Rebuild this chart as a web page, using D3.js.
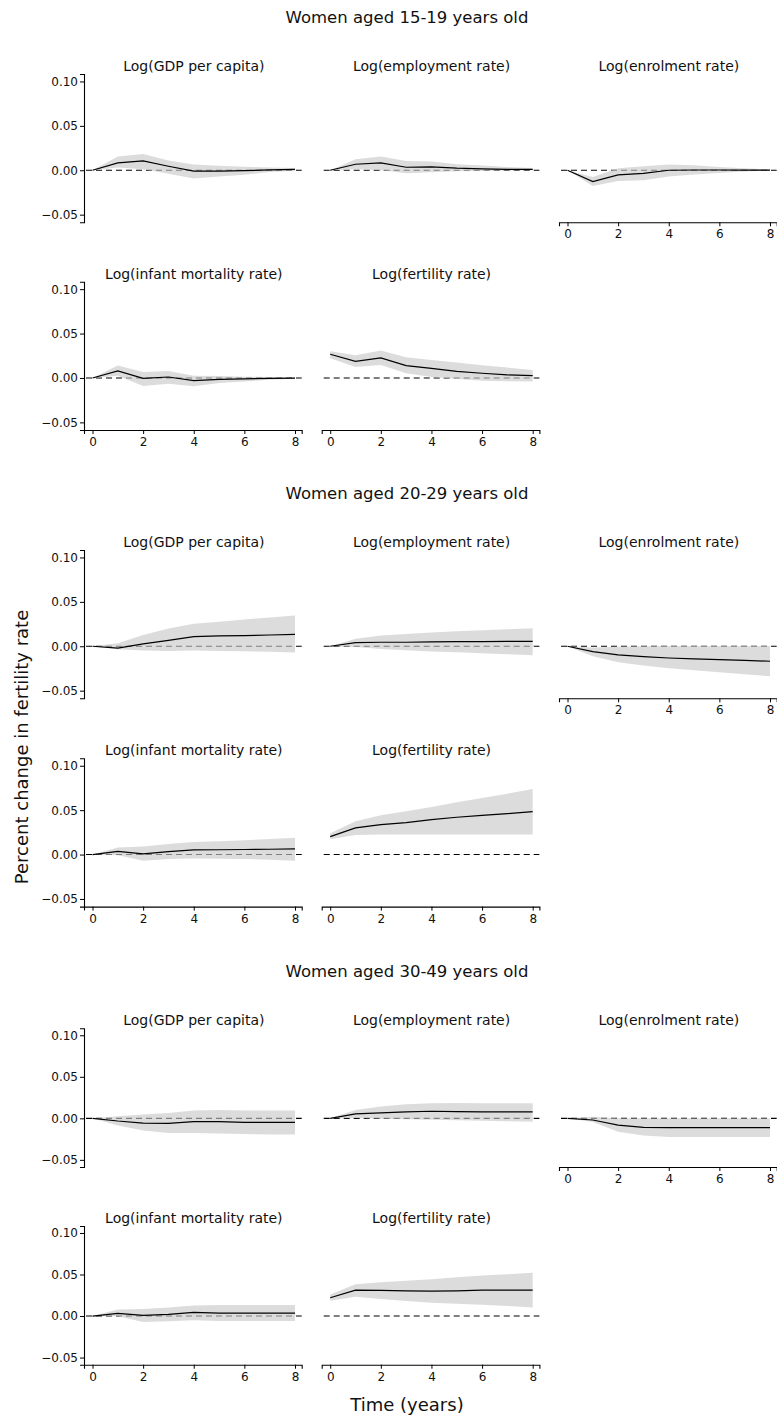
<!DOCTYPE html>
<html>
<head>
<meta charset="utf-8">
<script src="https://cdn.jsdelivr.net/npm/d3@7"></script>
<style>
  html, body { margin: 0; padding: 0; background: #fff; }
  svg { display: block; }
  text { font-family: "DejaVu Sans", sans-serif; fill: #111; }
</style>
</head>
<body>
<svg id="chart" width="777" height="1421"></svg>
<script>
// ---------- data ----------
const groupTitles = ["Women aged 15-19 years old", "Women aged 20-29 years old", "Women aged 30-49 years old"];
const panelTitles = ["Log(GDP per capita)", "Log(employment rate)", "Log(enrolment rate)", "Log(infant mortality rate)", "Log(fertility rate)"];
const periods = [0, 1, 2, 3, 4, 5, 6, 7, 8];
const xTicks = [0, 2, 4, 6, 8];
const yTicks = [-0.05, 0.00, 0.05, 0.10];
const yTitle = "Percent change in fertility rate";
const xTitle = "Time (years)";

// Women 15-19
const g1_gdp_est = [0, 0.0083, 0.0105, 0.0045, -0.0010, -0.0010, -0.0005, 0.0005, 0.0010];
const g1_gdp_hi  = [0, 0.0154, 0.0184, 0.0110, 0.0064, 0.0050, 0.0040, 0.0030, 0.0025];
const g1_gdp_lo  = [0, 0.0030, 0.0010, -0.0040, -0.0094, -0.0070, -0.0050, -0.0020, -0.0005];
const g1_emp_est = [0, 0.0068, 0.0083, 0.0034, 0.0038, 0.0023, 0.0015, 0.0010, 0.0010];
const g1_emp_hi  = [0, 0.0124, 0.0154, 0.0105, 0.0098, 0.0068, 0.0053, 0.0038, 0.0026];
const g1_emp_lo  = [0, 0.0010, 0.0000, -0.0034, -0.0023, -0.0010, -0.0008, -0.0004, 0.0000];
const g1_enr_est = [0, -0.0128, -0.0053, -0.0034, 0.0000, 0.0003, 0.0003, 0.0002, 0.0001];
const g1_enr_hi  = [0, -0.0075, 0.0023, 0.0045, 0.0064, 0.0056, 0.0038, 0.0022, 0.0008];
const g1_enr_lo  = [0, -0.0177, -0.0120, -0.0113, -0.0071, -0.0049, -0.0030, -0.0015, -0.0004];
const g1_inf_est = [0, 0.0079, -0.0004, 0.0011, -0.0030, -0.0015, -0.0010, -0.0004, -0.0002];
const g1_inf_hi  = [0, 0.0139, 0.0068, 0.0079, 0.0026, 0.0023, 0.0015, 0.0010, 0.0004];
const g1_inf_lo  = [0, 0.0026, -0.0090, -0.0064, -0.0094, -0.0056, -0.0040, -0.0020, -0.0010];
const g1_fer_est = [0.0267, 0.0188, 0.0226, 0.0139, 0.0109, 0.0075, 0.0053, 0.0034, 0.0026];
const g1_fer_hi  = [0.0300, 0.0256, 0.0308, 0.0233, 0.0203, 0.0173, 0.0143, 0.0117, 0.0090];
const g1_fer_lo  = [0.0222, 0.0124, 0.0147, 0.0053, 0.0011, -0.0011, -0.0030, -0.0038, -0.0041];

// Women 20-29
const g2_gdp_est = [0, -0.0022, 0.0026, 0.0067, 0.0108, 0.0116, 0.0120, 0.0127, 0.0134];
const g2_gdp_hi  = [0, 0.0034, 0.0127, 0.0201, 0.0254, 0.0276, 0.0300, 0.0325, 0.0347];
const g2_gdp_lo  = [0, -0.0034, -0.0049, -0.0052, -0.0049, -0.0052, -0.0056, -0.0063, -0.0071];
const g2_emp_est = [0, 0.0041, 0.0045, 0.0045, 0.0049, 0.0053, 0.0053, 0.0056, 0.0056];
const g2_emp_hi  = [0, 0.0086, 0.0120, 0.0139, 0.0154, 0.0169, 0.0180, 0.0192, 0.0203];
const g2_emp_lo  = [0, -0.0008, -0.0030, -0.0045, -0.0060, -0.0068, -0.0079, -0.0090, -0.0102];
const g2_enr_est = [0, -0.0060, -0.0098, -0.0117, -0.0132, -0.0143, -0.0150, -0.0158, -0.0169];
const g2_enr_hi  = [0, -0.0015, -0.0005, 0.0000, 0.0003, 0.0003, 0.0003, 0.0003, 0.0003];
const g2_enr_lo  = [0, -0.0113, -0.0180, -0.0218, -0.0248, -0.0270, -0.0293, -0.0316, -0.0338];
const g2_inf_est = [0, 0.0036, 0.0008, 0.0032, 0.0052, 0.0054, 0.0057, 0.0060, 0.0064];
const g2_inf_hi  = [0, 0.0080, 0.0092, 0.0118, 0.0141, 0.0150, 0.0162, 0.0175, 0.0188];
const g2_inf_lo  = [0, -0.0008, -0.0071, -0.0051, -0.0045, -0.0047, -0.0050, -0.0058, -0.0071];
const g2_fer_est = [0.0202, 0.0300, 0.0337, 0.0360, 0.0393, 0.0420, 0.0442, 0.0460, 0.0483];
const g2_fer_hi  = [0.0240, 0.0375, 0.0442, 0.0487, 0.0536, 0.0588, 0.0637, 0.0685, 0.0738];
const g2_fer_lo  = [0.0172, 0.0221, 0.0225, 0.0225, 0.0225, 0.0225, 0.0225, 0.0225, 0.0225];

// Women 30-49
const g3_gdp_est = [0, -0.0032, -0.0057, -0.0061, -0.0040, -0.0040, -0.0049, -0.0049, -0.0049];
const g3_gdp_hi  = [0, 0.0024, 0.0045, 0.0065, 0.0093, 0.0101, 0.0093, 0.0093, 0.0093];
const g3_gdp_lo  = [0, -0.0085, -0.0146, -0.0178, -0.0178, -0.0182, -0.0190, -0.0194, -0.0194];
const g3_emp_est = [0, 0.0053, 0.0065, 0.0077, 0.0085, 0.0081, 0.0077, 0.0077, 0.0077];
const g3_emp_hi  = [0, 0.0101, 0.0142, 0.0170, 0.0182, 0.0186, 0.0182, 0.0182, 0.0182];
const g3_emp_lo  = [0, 0.0004, -0.0004, -0.0012, -0.0016, -0.0022, -0.0028, -0.0034, -0.0040];
const g3_enr_est = [0, -0.0020, -0.0081, -0.0109, -0.0113, -0.0113, -0.0113, -0.0113, -0.0113];
const g3_enr_hi  = [0, 0.0020, 0.0000, 0.0000, 0.0000, 0.0000, 0.0000, 0.0000, 0.0000];
const g3_enr_lo  = [0, -0.0044, -0.0161, -0.0206, -0.0226, -0.0226, -0.0226, -0.0226, -0.0226];
const g3_inf_est = [0, 0.0032, 0.0008, 0.0020, 0.0044, 0.0036, 0.0036, 0.0036, 0.0036];
const g3_inf_hi  = [0, 0.0080, 0.0084, 0.0104, 0.0128, 0.0132, 0.0132, 0.0132, 0.0132];
const g3_inf_lo  = [0, -0.0004, -0.0072, -0.0064, -0.0052, -0.0060, -0.0060, -0.0060, -0.0060];
const g3_fer_est = [0.0220, 0.0312, 0.0308, 0.0304, 0.0300, 0.0304, 0.0312, 0.0312, 0.0312];
const g3_fer_hi  = [0.0260, 0.0384, 0.0408, 0.0424, 0.0444, 0.0468, 0.0488, 0.0504, 0.0520];
const g3_fer_lo  = [0.0184, 0.0232, 0.0204, 0.0180, 0.0160, 0.0148, 0.0136, 0.0120, 0.0104];

const groupSeries = [
  [[g1_gdp_est, g1_gdp_lo, g1_gdp_hi], [g1_emp_est, g1_emp_lo, g1_emp_hi], [g1_enr_est, g1_enr_lo, g1_enr_hi], [g1_inf_est, g1_inf_lo, g1_inf_hi], [g1_fer_est, g1_fer_lo, g1_fer_hi]],
  [[g2_gdp_est, g2_gdp_lo, g2_gdp_hi], [g2_emp_est, g2_emp_lo, g2_emp_hi], [g2_enr_est, g2_enr_lo, g2_enr_hi], [g2_inf_est, g2_inf_lo, g2_inf_hi], [g2_fer_est, g2_fer_lo, g2_fer_hi]],
  [[g3_gdp_est, g3_gdp_lo, g3_gdp_hi], [g3_emp_est, g3_emp_lo, g3_emp_hi], [g3_enr_est, g3_enr_lo, g3_enr_hi], [g3_inf_est, g3_inf_lo, g3_inf_hi], [g3_fer_est, g3_fer_lo, g3_fer_hi]]
];

// ---------- layout ----------
const svg = d3.select("#chart");
const colLeft = [84, 321.7, 559];
const panelW = 217.7;
const groupRow1Top = [74, 550, 1028.3];
const groupRowStep = [207.7, 208.3, 197.7];
const groupPanelH = [148.3, 148.3, 138.7];
const xDomain = [-0.336, 8.265];
const yDomain = [-0.0586, 0.1084];

const x = d3.scaleLinear().domain(xDomain).range([0, panelW]);

// panel positions: index -> [row, col]
const panelPos = [[0, 0], [0, 1], [0, 2], [1, 0], [1, 1]];
const hasXAxis = [false, false, true, true, true];
const hasYAxis = [true, false, false, true, false];

groupTitles.forEach((gt, gi) => {
  const H = groupPanelH[gi];
  const y = d3.scaleLinear().domain(yDomain).range([H, 0]);

  svg.append("text")
    .attr("x", 407).attr("y", groupRow1Top[gi] - 51)
    .attr("text-anchor", "middle")
    .style("font-size", "16.5px")
    .text(gt);

  panelTitles.forEach((pt, pi) => {
    const [r, c] = panelPos[pi];
    const left = colLeft[c];
    const top = groupRow1Top[gi] + r * groupRowStep[gi];
    const g = svg.append("g").attr("transform", `translate(${left},${top})`);
    const [est, lo, hi] = groupSeries[gi][pi];
    const pts = periods.map((p, i) => ({ p, est: est[i], lo: lo[i], hi: hi[i] }));

    // zero dashed line
    g.append("line")
      .attr("x1", 2).attr("x2", panelW)
      .attr("y1", y(0)).attr("y2", y(0))
      .attr("stroke", "#000").attr("stroke-width", 1.1)
      .attr("stroke-dasharray", "6,4");

    // confidence band
    g.append("path")
      .datum(pts)
      .attr("d", d3.area().x(d => x(d.p)).y0(d => y(d.lo)).y1(d => y(d.hi)))
      .attr("fill", "#c8c8c8").attr("fill-opacity", 0.64);

    // estimate line
    g.append("path")
      .datum(pts)
      .attr("d", d3.line().x(d => x(d.p)).y(d => y(d.est)))
      .attr("fill", "none").attr("stroke", "#000").attr("stroke-width", 1.2);

    // title
    g.append("text")
      .attr("x", panelW / 2 + 1).attr("y", -3)
      .attr("text-anchor", "middle")
      .style("font-size", "14px")
      .text(pt);

    if (hasYAxis[pi]) {
      const ya = g.append("g")
        .call(d3.axisLeft(y).tickValues(yTicks).tickFormat(d3.format(".2f")).tickSize(4).tickPadding(2));
      ya.select(".domain").attr("stroke", "#000").attr("stroke-width", 1.1);
      ya.selectAll(".tick line").attr("stroke", "#000");
      ya.selectAll("text").style("font-size", "12px").style("font-family", "DejaVu Sans").attr("fill", "#111");
    }
    if (hasXAxis[pi]) {
      const xa = g.append("g").attr("transform", `translate(0,${H})`)
        .call(d3.axisBottom(x).tickValues(xTicks).tickFormat(d3.format("d")).tickSize(4).tickPadding(3.5));
      xa.select(".domain").attr("stroke", "#000").attr("stroke-width", 1.1);
      xa.selectAll(".tick line").attr("stroke", "#000");
      xa.selectAll("text").style("font-size", "12px").style("font-family", "DejaVu Sans").attr("fill", "#111");
    }
  });
});

// axis titles
svg.append("text")
  .attr("transform", "translate(27.5,747) rotate(-90)")
  .attr("text-anchor", "middle")
  .style("font-size", "18px")
  .text(yTitle);

svg.append("text")
  .attr("x", 407).attr("y", 1411)
  .attr("text-anchor", "middle")
  .style("font-size", "18px")
  .text(xTitle);
</script>
</body>
</html>
